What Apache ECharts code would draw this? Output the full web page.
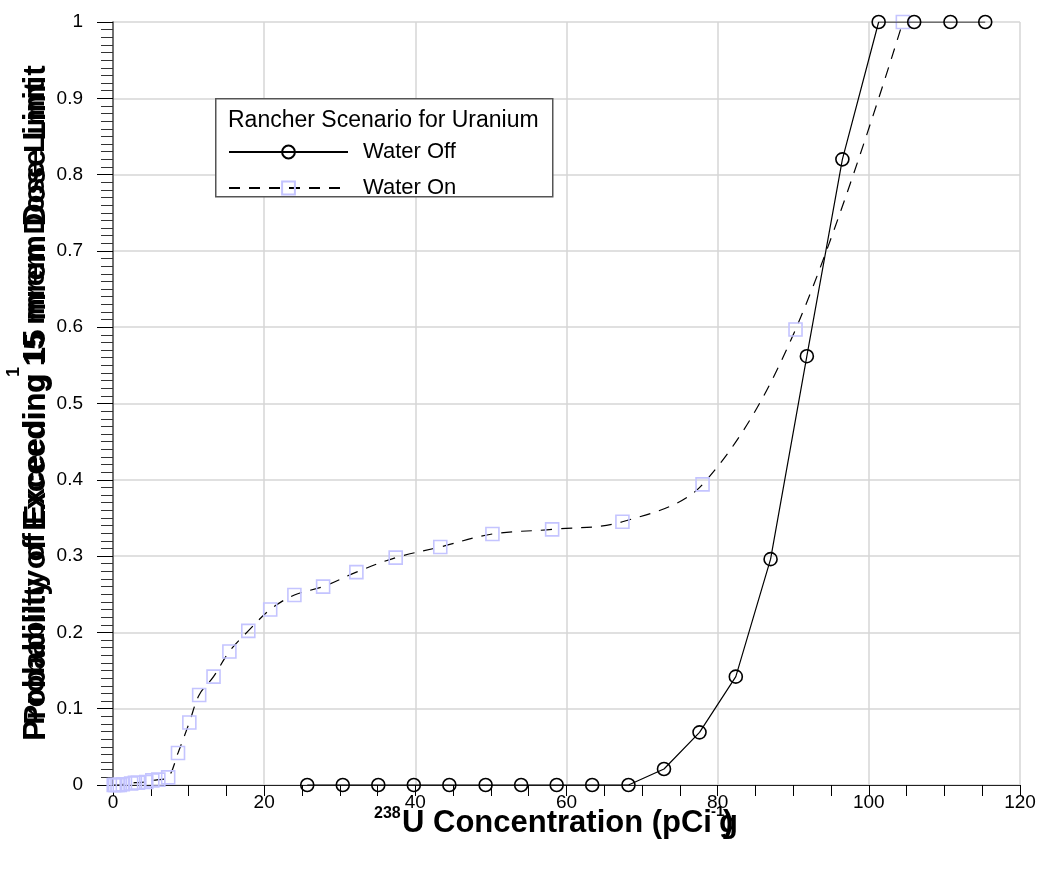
<!DOCTYPE html>
<html>
<head>
<meta charset="utf-8">
<script src="https://cdn.jsdelivr.net/npm/echarts@6/dist/echarts.min.js"></script>
<style>
  html, body { margin: 0; padding: 0; background: #fff; }
  #chart { width: 1047px; height: 873px; }
</style>
</head>
<body>
<div id="chart"></div>
<script>
// Rancher scenario for uranium: probability of exceeding the dose limit
// versus 238U soil concentration (pCi/g).

const waterOffX = [25.7, 30.4, 35.1, 39.8, 44.5, 49.3, 54.0, 58.7, 63.4, 68.2,
                   72.9, 77.6, 82.4, 87.0, 91.8, 96.5, 101.3, 106.0, 110.8, 115.4];
const waterOffY = [0, 0, 0, 0, 0, 0, 0, 0, 0, 0,
                   0.021, 0.069, 0.142, 0.296, 0.562, 0.820, 1.0, 1.0, 1.0, 1.0];

const waterOnX = [0.1, 0.3, 0.6, 0.9, 1.3, 2.4, 2.9, 3.3, 4.4, 5.2, 6.0, 7.3,
                  8.6, 10.1, 11.4, 13.3, 15.4, 17.9, 20.8, 24.0, 27.8, 32.2,
                  37.4, 43.3, 50.2, 58.1, 67.4, 78.0, 90.3, 104.5];
const waterOnY = [0, 0, 0, 0, 0.001, 0.002, 0.003, 0.003, 0.004, 0.006, 0.007, 0.010,
                  0.042, 0.082, 0.118, 0.142, 0.175, 0.202, 0.230, 0.249, 0.260, 0.279,
                  0.298, 0.312, 0.329, 0.335, 0.345, 0.394, 0.597, 1.0];

const xTicks = { min: 0, max: 120, step: 20 };
const yTicks = { min: 0, max: 1, step: 0.1 };

const legendTitle = 'Rancher Scenario for Uranium';
const seriesNames = ['Water Off', 'Water On'];
const yTitle = 'Probability of Exceeding 15 mrem Dose Limit';

const FONT = '"Liberation Sans", Arial, Helvetica, sans-serif';

const pairs = (xs, ys) => xs.map((x, i) => [x, ys[i]]);

const chart = echarts.init(document.getElementById('chart'), null, { renderer: 'canvas' });

chart.setOption({
  animation: false,
  backgroundColor: '#fff',
  grid: { left: 113, right: 27, top: 22, bottom: 88, containLabel: false },
  xAxis: {
    type: 'value',
    min: xTicks.min, max: xTicks.max, interval: xTicks.step,
    axisLine: { show: true, onZero: false, lineStyle: { color: '#222', width: 1.2 } },
    axisTick: { show: true, inside: false, length: 11, lineStyle: { color: '#000', width: 1 } },
    minorTick: { show: true, splitNumber: 4, length: 11, lineStyle: { color: '#000', width: 1 } },
    splitLine: { show: true, lineStyle: { color: '#d6d6d6', width: 1.5 } },
    axisLabel: { color: '#000', fontSize: 19, fontFamily: FONT, margin: 8 }
  },
  yAxis: {
    type: 'value',
    min: yTicks.min, max: yTicks.max, interval: yTicks.step,
    axisLine: { show: true, onZero: false, lineStyle: { color: '#555', width: 1.6 } },
    axisTick: { show: true, inside: false, length: 16, lineStyle: { color: '#000', width: 1 } },
    minorTick: { show: true, splitNumber: 10, length: 12, lineStyle: { color: '#333', width: 1 } },
    splitLine: { show: true, lineStyle: { color: '#d6d6d6', width: 1.5 } },
    axisLabel: { color: '#000', fontSize: 19, fontFamily: FONT, margin: 30 }
  },
  legend: {
    show: true,
    z: 30,
    data: seriesNames,
    orient: 'vertical',
    left: 228, top: 141, padding: 0,
    itemWidth: 119, itemHeight: 16, itemGap: 14,
    textStyle: { color: '#000', fontSize: 22, fontFamily: FONT, padding: [0, 0, 0, 10] }
  },
  graphic: [
    {
      type: 'rect', left: 215, top: 98, z: 10,
      shape: { width: 337, height: 98 },
      style: { fill: '#fff', stroke: '#555', lineWidth: 1.5 }
    },
    {
      type: 'text', x: 228, y: 121, z: 11,
      style: { text: legendTitle, fill: '#000', font: '23px ' + FONT, verticalAlign: 'middle' }
    },
    // y-axis title, drawn twice with slightly different sizes
    {
      type: 'text', x: 36, y: 403, rotation: Math.PI / 2, z: 5,
      style: { text: yTitle, fill: '#000', font: 'bold 30px ' + FONT, align: 'center', verticalAlign: 'middle' }
    },
    {
      type: 'text', x: 36, y: 403, rotation: Math.PI / 2, z: 5,
      style: { text: yTitle, fill: '#000', font: 'bold 31.5px ' + FONT, align: 'center', verticalAlign: 'middle' }
    },
    {
      type: 'text', x: 14, y: 372, rotation: Math.PI / 2, z: 5,
      style: { text: '1', fill: '#000', font: 'bold 18px ' + FONT, align: 'center', verticalAlign: 'middle' }
    },
    // x-axis title
    {
      type: 'text', x: 374, y: 814, z: 5,
      style: { text: '238', fill: '#000', font: 'bold 16px ' + FONT, align: 'left', verticalAlign: 'middle' }
    },
    {
      type: 'text', x: 402, y: 823, z: 5,
      style: { text: 'U Concentration (pCi', fill: '#000', font: 'bold 31px ' + FONT, align: 'left', verticalAlign: 'middle' }
    },
    {
      type: 'text', x: 711, y: 812, z: 5,
      style: { text: '-1', fill: '#000', font: 'bold 15px ' + FONT, align: 'left', verticalAlign: 'middle' }
    },
    {
      type: 'text', x: 719, y: 823, z: 5,
      style: { text: 'g', fill: '#000', font: 'bold 31px ' + FONT, align: 'left', verticalAlign: 'middle' }
    },
    {
      type: 'text', x: 723, y: 823, z: 5,
      style: { text: ')', fill: '#000', font: 'bold 31px ' + FONT, align: 'left', verticalAlign: 'middle' }
    }
  ],
  series: [
    {
      name: seriesNames[0],
      type: 'line',
      data: pairs(waterOffX, waterOffY),
      smooth: false,
      symbol: 'circle', symbolSize: 13,
      lineStyle: { color: '#000', width: 1.2 },
      itemStyle: { color: 'rgba(255,255,255,0)', borderColor: '#000', borderWidth: 1.6 },
      z: 3
    },
    {
      name: seriesNames[1],
      type: 'line',
      data: pairs(waterOnX, waterOnY),
      smooth: 0.35,
      symbol: 'rect', symbolSize: 13,
      lineStyle: { color: '#000', width: 1.2, type: [11, 9] },
      itemStyle: { color: 'rgba(255,255,255,0)', borderColor: '#c4c4ff', borderWidth: 1.6 },
      z: 2
    }
  ]
});
</script>
</body>
</html>
